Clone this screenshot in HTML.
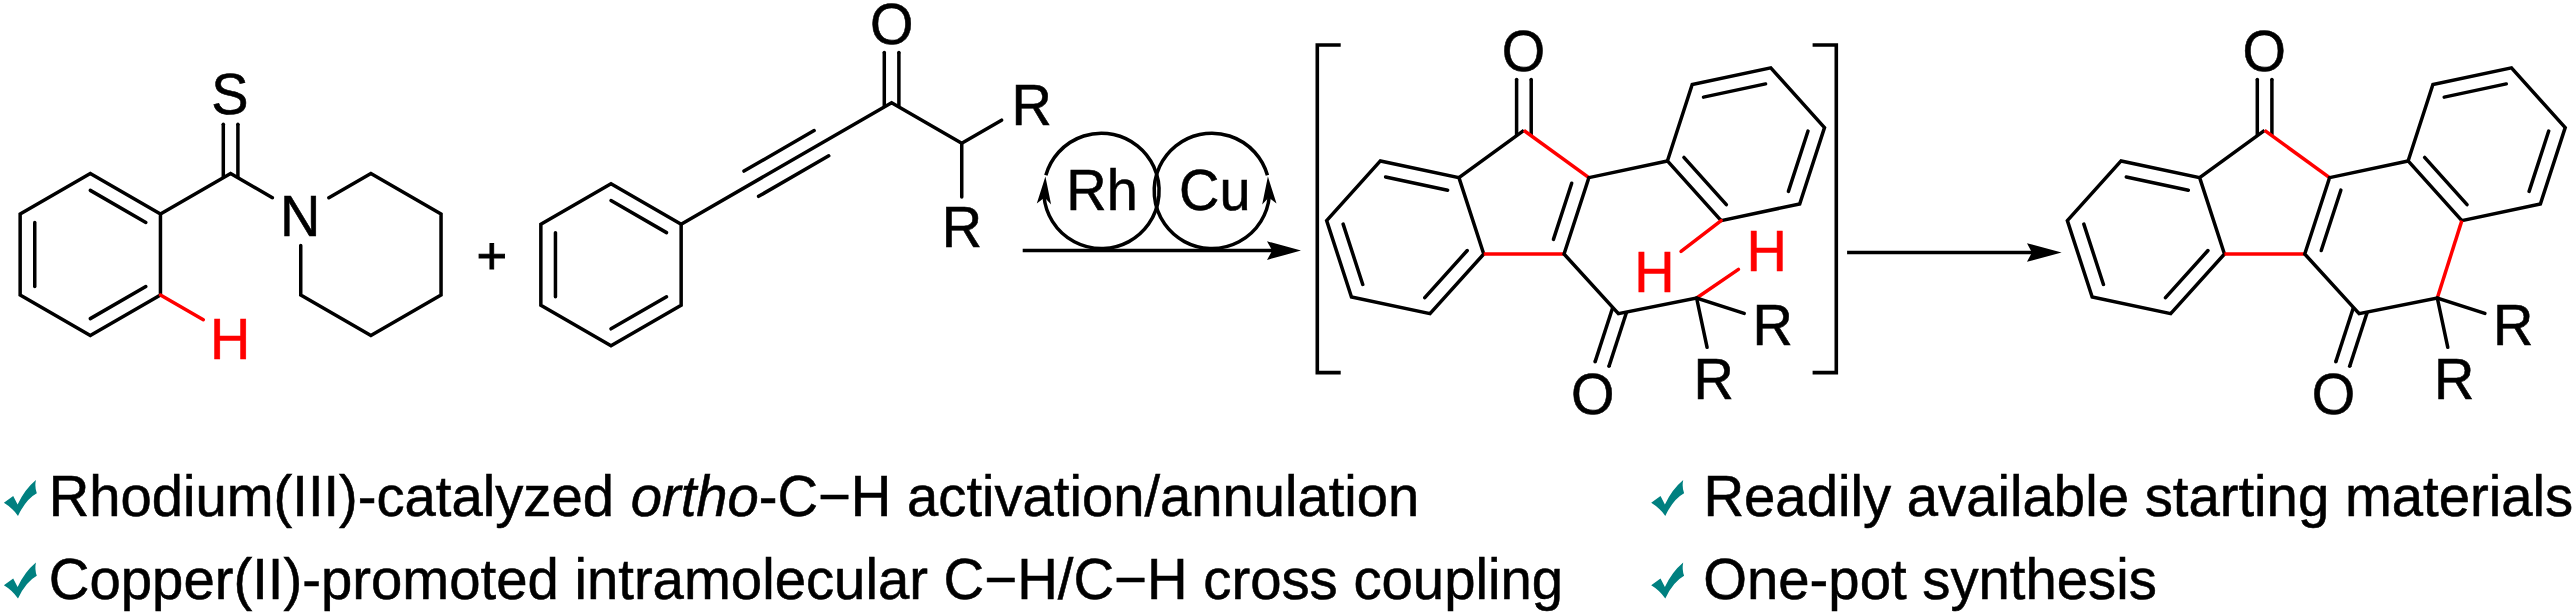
<!DOCTYPE html>
<html><head><meta charset="utf-8"><title>Scheme</title>
<style>
html,body{margin:0;padding:0;background:#fff;}
svg{display:block;font-family:"Liberation Sans",sans-serif;}
</style></head><body>
<svg width="2575" height="615" viewBox="0 0 2575 615">
<rect width="2575" height="615" fill="#fff"/>
<path d="M90.30 173.50 L160.45 214.00 L160.45 295.00 L90.30 335.50 L20.15 295.00 L20.15 214.00 Z" fill="none" stroke="#000" stroke-width="3.50" stroke-linejoin="miter" stroke-linecap="butt" stroke-miterlimit="10"/>
<line x1="90.30" y1="190.36" x2="145.85" y2="222.43" stroke="#000" stroke-width="3.50" stroke-linecap="round"/>
<line x1="145.85" y1="286.57" x2="90.30" y2="318.64" stroke="#000" stroke-width="3.50" stroke-linecap="round"/>
<line x1="34.75" y1="286.57" x2="34.75" y2="222.43" stroke="#000" stroke-width="3.50" stroke-linecap="round"/>
<line x1="237.90" y1="177.71" x2="237.90" y2="124.20" stroke="#000" stroke-width="3.50" stroke-linecap="butt"/>
<circle cx="237.90" cy="124.20" r="1.75" fill="#000"/>
<line x1="223.30" y1="177.71" x2="223.30" y2="124.20" stroke="#000" stroke-width="3.50" stroke-linecap="butt"/>
<circle cx="223.30" cy="124.20" r="1.75" fill="#000"/>
<path d="M160.45 214.00 L230.60 173.50 L272.43 197.65" fill="none" stroke="#000" stroke-width="3.50" stroke-linejoin="miter" stroke-linecap="butt" stroke-miterlimit="10"/>
<circle cx="272.43" cy="197.65" r="1.75"/>
<path d="M328.89 197.75 L370.89 173.50 L441.04 214.00 L441.04 295.00 L370.89 335.50 L300.74 295.00 L300.74 245.50" fill="none" stroke="#000" stroke-width="3.50" stroke-linejoin="miter" stroke-linecap="round" stroke-miterlimit="10"/>
<line x1="160.45" y1="295.00" x2="203.32" y2="319.75" stroke="#f00" stroke-width="3.50" stroke-linecap="round"/>
<text transform="translate(230.00 114.40) scale(1 1.035)" font-size="55.90" fill="#000" stroke="#000" stroke-width="0.55" text-anchor="middle">S</text>
<text transform="translate(300.30 235.60) scale(1 1.035)" font-size="55.90" fill="#000" stroke="#000" stroke-width="0.55" text-anchor="middle">N</text>
<text transform="translate(230.20 359.00) scale(1 1.035)" font-size="55.90" fill="#f00" stroke="#f00" stroke-width="0.55" text-anchor="middle">H</text>
<text x="491.8" y="274.2" font-size="52.5" text-anchor="middle" stroke="#000" stroke-width="0.9">+</text>
<path d="M611.00 183.70 L681.15 224.20 L681.15 305.20 L611.00 345.70 L540.85 305.20 L540.85 224.20 Z" fill="none" stroke="#000" stroke-width="3.50" stroke-linejoin="miter" stroke-linecap="butt" stroke-miterlimit="10"/>
<line x1="611.00" y1="200.56" x2="666.55" y2="232.63" stroke="#000" stroke-width="3.50" stroke-linecap="round"/>
<line x1="666.55" y1="296.77" x2="611.00" y2="328.84" stroke="#000" stroke-width="3.50" stroke-linecap="round"/>
<line x1="555.45" y1="296.77" x2="555.45" y2="232.63" stroke="#000" stroke-width="3.50" stroke-linecap="round"/>
<line x1="898.89" y1="106.91" x2="898.89" y2="52.40" stroke="#000" stroke-width="3.50" stroke-linecap="butt"/>
<circle cx="898.89" cy="52.40" r="1.75" fill="#000"/>
<line x1="884.29" y1="106.91" x2="884.29" y2="52.40" stroke="#000" stroke-width="3.50" stroke-linecap="butt"/>
<circle cx="884.29" cy="52.40" r="1.75" fill="#000"/>
<path d="M681.15 224.20 L891.59 102.70 L961.74 143.20 L1001.58 120.20" fill="none" stroke="#000" stroke-width="3.50" stroke-linejoin="miter" stroke-linecap="round" stroke-miterlimit="10"/>
<line x1="961.74" y1="143.20" x2="961.74" y2="197.10" stroke="#000" stroke-width="3.50" stroke-linecap="round"/>
<line x1="758.60" y1="196.34" x2="828.74" y2="155.84" stroke="#000" stroke-width="3.50" stroke-linecap="round"/>
<line x1="744.00" y1="171.06" x2="814.14" y2="130.56" stroke="#000" stroke-width="3.50" stroke-linecap="round"/>
<text transform="translate(891.70 43.70) scale(1 1.035)" font-size="55.90" fill="#000" stroke="#000" stroke-width="0.55" text-anchor="middle">O</text>
<text transform="translate(1031.80 125.00) scale(1 1.035)" font-size="55.90" fill="#000" stroke="#000" stroke-width="0.55" text-anchor="middle">R</text>
<text transform="translate(962.00 247.20) scale(1 1.035)" font-size="55.90" fill="#000" stroke="#000" stroke-width="0.55" text-anchor="middle">R</text>
<line x1="1022.70" y1="250.60" x2="1273.20" y2="250.60" stroke="#000" stroke-width="3.50" stroke-linecap="butt"/>
<path d="M1301.00 250.60 L1267.00 241.30 L1272.20 250.60 L1267.00 259.90 Z" fill="#000"/>
<path d="M1045.85 175.29 A57.70 57.70 0 1 1 1043.97 196.43" fill="none" stroke="#000" stroke-width="3.50"/>
<path d="M1045.40 176.60 L1036.80 203.40 L1044.60 197.60 L1051.10 204.50 Z" fill="#000"/>
<path d="M1267.45 175.29 A57.70 57.70 0 1 0 1269.33 196.43" fill="none" stroke="#000" stroke-width="3.50"/>
<path d="M1267.90 176.60 L1276.50 203.40 L1268.70 197.60 L1262.20 204.50 Z" fill="#000"/>
<text transform="translate(1102.00 210.20) scale(1 1.020)" font-size="55.90" fill="#000" stroke="#000" stroke-width="0.55" text-anchor="middle">Rh</text>
<text transform="translate(1214.85 210.30) scale(1 1.030)" font-size="55.90" fill="#000" stroke="#000" stroke-width="0.55" text-anchor="middle">Cu</text>
<line x1="1531.20" y1="135.75" x2="1531.20" y2="79.44" stroke="#000" stroke-width="3.50" stroke-linecap="butt"/>
<circle cx="1531.20" cy="79.44" r="1.75" fill="#000"/>
<line x1="1516.60" y1="135.75" x2="1516.60" y2="79.44" stroke="#000" stroke-width="3.50" stroke-linecap="butt"/>
<circle cx="1516.60" cy="79.44" r="1.75" fill="#000"/>
<path d="M1523.90 130.44 L1458.94 177.64 L1380.39 160.95 L1326.66 220.62 L1351.47 296.99 L1430.02 313.69 L1483.75 254.01 L1458.94 177.64" fill="none" stroke="#000" stroke-width="3.50" stroke-linejoin="miter" stroke-linecap="butt" stroke-miterlimit="10"/>
<line x1="1447.66" y1="190.17" x2="1385.60" y2="176.98" stroke="#000" stroke-width="3.50" stroke-linecap="round"/>
<line x1="1343.15" y1="224.13" x2="1362.75" y2="284.46" stroke="#000" stroke-width="3.50" stroke-linecap="round"/>
<line x1="1424.81" y1="297.65" x2="1467.26" y2="250.51" stroke="#000" stroke-width="3.50" stroke-linecap="round"/>
<path d="M1667.41 160.95 L1692.22 84.58 L1770.77 67.88 L1824.50 127.56 L1799.69 203.93 L1721.14 220.62 Z" fill="none" stroke="#000" stroke-width="3.50" stroke-linejoin="miter" stroke-linecap="butt" stroke-miterlimit="10"/>
<line x1="1703.50" y1="97.11" x2="1765.56" y2="83.91" stroke="#000" stroke-width="3.50" stroke-linecap="round"/>
<line x1="1808.01" y1="131.06" x2="1788.41" y2="191.40" stroke="#000" stroke-width="3.50" stroke-linecap="round"/>
<line x1="1726.35" y1="204.59" x2="1683.90" y2="157.44" stroke="#000" stroke-width="3.50" stroke-linecap="round"/>
<line x1="1612.74" y1="307.49" x2="1595.08" y2="361.85" stroke="#000" stroke-width="3.50" stroke-linecap="butt"/>
<circle cx="1595.08" cy="361.85" r="1.75" fill="#000"/>
<line x1="1626.61" y1="312.05" x2="1608.96" y2="366.36" stroke="#000" stroke-width="3.50" stroke-linecap="butt"/>
<circle cx="1608.96" cy="366.36" r="1.75" fill="#000"/>
<line x1="1523.90" y1="130.44" x2="1588.86" y2="177.64" stroke="#f00" stroke-width="3.50" stroke-linecap="butt"/>
<line x1="1483.75" y1="254.01" x2="1564.05" y2="254.01" stroke="#f00" stroke-width="3.50" stroke-linecap="butt"/>
<line x1="1696.60" y1="298.00" x2="1738.45" y2="269.38" stroke="#f00" stroke-width="3.50" stroke-linecap="round"/>
<line x1="1721.14" y1="220.62" x2="1681.06" y2="251.34" stroke="#f00" stroke-width="3.50" stroke-linecap="round"/>
<path d="M1667.41 160.95 L1588.86 177.64 L1564.05 254.01 L1618.40 313.70 L1696.60 298.00 L1744.15 313.45" fill="none" stroke="#000" stroke-width="3.50" stroke-linejoin="miter" stroke-linecap="round" stroke-miterlimit="10"/>
<line x1="1696.60" y1="298.00" x2="1707.08" y2="347.30" stroke="#000" stroke-width="3.50" stroke-linecap="round"/>
<line x1="1571.70" y1="183.22" x2="1553.44" y2="239.41" stroke="#000" stroke-width="3.50" stroke-linecap="round"/>
<text transform="translate(1523.60 71.30) scale(1 1.035)" font-size="55.90" fill="#000" stroke="#000" stroke-width="0.55" text-anchor="middle">O</text>
<text transform="translate(1592.80 413.70) scale(1 1.035)" font-size="55.90" fill="#000" stroke="#000" stroke-width="0.55" text-anchor="middle">O</text>
<text transform="translate(1772.60 345.20) scale(1 1.035)" font-size="55.90" fill="#000" stroke="#000" stroke-width="0.55" text-anchor="middle">R</text>
<text transform="translate(1713.60 399.10) scale(1 1.035)" font-size="55.90" fill="#000" stroke="#000" stroke-width="0.55" text-anchor="middle">R</text>
<text transform="translate(1766.80 270.60) scale(1 1.035)" font-size="55.90" fill="#f00" stroke="#f00" stroke-width="0.55" text-anchor="middle">H</text>
<text transform="translate(1654.50 292.30) scale(1 1.035)" font-size="55.90" fill="#f00" stroke="#f00" stroke-width="0.55" text-anchor="middle">H</text>
<line x1="2271.90" y1="135.75" x2="2271.90" y2="79.44" stroke="#000" stroke-width="3.50" stroke-linecap="butt"/>
<circle cx="2271.90" cy="79.44" r="1.75" fill="#000"/>
<line x1="2257.30" y1="135.75" x2="2257.30" y2="79.44" stroke="#000" stroke-width="3.50" stroke-linecap="butt"/>
<circle cx="2257.30" cy="79.44" r="1.75" fill="#000"/>
<path d="M2264.60 130.44 L2199.64 177.64 L2121.09 160.95 L2067.36 220.62 L2092.17 296.99 L2170.72 313.69 L2224.45 254.01 L2199.64 177.64" fill="none" stroke="#000" stroke-width="3.50" stroke-linejoin="miter" stroke-linecap="butt" stroke-miterlimit="10"/>
<line x1="2188.36" y1="190.17" x2="2126.30" y2="176.98" stroke="#000" stroke-width="3.50" stroke-linecap="round"/>
<line x1="2083.85" y1="224.13" x2="2103.45" y2="284.46" stroke="#000" stroke-width="3.50" stroke-linecap="round"/>
<line x1="2165.51" y1="297.65" x2="2207.96" y2="250.51" stroke="#000" stroke-width="3.50" stroke-linecap="round"/>
<path d="M2408.11 160.95 L2432.92 84.58 L2511.47 67.88 L2565.20 127.56 L2540.39 203.93 L2461.84 220.62 Z" fill="none" stroke="#000" stroke-width="3.50" stroke-linejoin="miter" stroke-linecap="butt" stroke-miterlimit="10"/>
<line x1="2444.20" y1="97.11" x2="2506.26" y2="83.91" stroke="#000" stroke-width="3.50" stroke-linecap="round"/>
<line x1="2548.71" y1="131.06" x2="2529.11" y2="191.40" stroke="#000" stroke-width="3.50" stroke-linecap="round"/>
<line x1="2467.05" y1="204.59" x2="2424.60" y2="157.44" stroke="#000" stroke-width="3.50" stroke-linecap="round"/>
<line x1="2353.44" y1="307.49" x2="2335.78" y2="361.85" stroke="#000" stroke-width="3.50" stroke-linecap="butt"/>
<circle cx="2335.78" cy="361.85" r="1.75" fill="#000"/>
<line x1="2367.31" y1="312.05" x2="2349.66" y2="366.36" stroke="#000" stroke-width="3.50" stroke-linecap="butt"/>
<circle cx="2349.66" cy="366.36" r="1.75" fill="#000"/>
<line x1="2264.60" y1="130.44" x2="2329.56" y2="177.64" stroke="#f00" stroke-width="3.50" stroke-linecap="butt"/>
<line x1="2224.45" y1="254.01" x2="2304.75" y2="254.01" stroke="#f00" stroke-width="3.50" stroke-linecap="butt"/>
<line x1="2461.84" y1="220.62" x2="2437.30" y2="298.00" stroke="#f00" stroke-width="3.50" stroke-linecap="butt"/>
<path d="M2408.11 160.95 L2329.56 177.64 L2304.75 254.01 L2359.10 313.70 L2437.30 298.00 L2484.85 313.45" fill="none" stroke="#000" stroke-width="3.50" stroke-linejoin="miter" stroke-linecap="round" stroke-miterlimit="10"/>
<line x1="2437.30" y1="298.00" x2="2447.78" y2="347.30" stroke="#000" stroke-width="3.50" stroke-linecap="round"/>
<line x1="2340.84" y1="190.17" x2="2321.24" y2="250.51" stroke="#000" stroke-width="3.50" stroke-linecap="round"/>
<text transform="translate(2264.30 71.30) scale(1 1.035)" font-size="55.90" fill="#000" stroke="#000" stroke-width="0.55" text-anchor="middle">O</text>
<text transform="translate(2333.50 413.70) scale(1 1.035)" font-size="55.90" fill="#000" stroke="#000" stroke-width="0.55" text-anchor="middle">O</text>
<text transform="translate(2513.30 345.20) scale(1 1.035)" font-size="55.90" fill="#000" stroke="#000" stroke-width="0.55" text-anchor="middle">R</text>
<text transform="translate(2454.30 399.10) scale(1 1.035)" font-size="55.90" fill="#000" stroke="#000" stroke-width="0.55" text-anchor="middle">R</text>
<path d="M1340.70 45.00 L1317.30 45.00 L1317.30 372.60 L1340.70 372.60" fill="none" stroke="#000" stroke-width="3.60" stroke-linejoin="miter" stroke-linecap="butt" stroke-miterlimit="10"/>
<path d="M1812.60 45.00 L1836.30 45.00 L1836.30 372.60 L1812.60 372.60" fill="none" stroke="#000" stroke-width="3.60" stroke-linejoin="miter" stroke-linecap="butt" stroke-miterlimit="10"/>
<line x1="1847.10" y1="252.50" x2="2032.90" y2="252.50" stroke="#000" stroke-width="3.50" stroke-linecap="butt"/>
<path d="M2061.60 252.50 L2027.00 243.15 L2031.90 252.50 L2027.00 261.85 Z" fill="#000"/>
<path transform="translate(0.00 480.00)" d="M3.9 22.7 L13.2 16.1 L17.6 24.6 Q24.5 9.5 35.9 0 Q34.5 7 36.8 13.2 Q26 19 18 35.9 Q12 27.5 3.9 22.7 Z" fill="#008080"/>
<path transform="translate(0.00 562.50)" d="M3.9 22.7 L13.2 16.1 L17.6 24.6 Q24.5 9.5 35.9 0 Q34.5 7 36.8 13.2 Q26 19 18 35.9 Q12 27.5 3.9 22.7 Z" fill="#008080"/>
<path transform="translate(1647.30 480.00)" d="M3.9 22.7 L13.2 16.1 L17.6 24.6 Q24.5 9.5 35.9 0 Q34.5 7 36.8 13.2 Q26 19 18 35.9 Q12 27.5 3.9 22.7 Z" fill="#008080"/>
<path transform="translate(1647.30 562.50)" d="M3.9 22.7 L13.2 16.1 L17.6 24.6 Q24.5 9.5 35.9 0 Q34.5 7 36.8 13.2 Q26 19 18 35.9 Q12 27.5 3.9 22.7 Z" fill="#008080"/>
<text transform="translate(48.70 516.00) scale(1 1.015)" font-size="56.20" fill="#000" stroke="#000" stroke-width="0.55" text-anchor="start">Rhodium(III)-catalyzed <tspan font-style="italic" dx="1.2">ortho</tspan>-C−H activation/annulation</text>
<text transform="translate(48.80 599.00) scale(1 1.015)" font-size="56.30" fill="#000" stroke="#000" stroke-width="0.55" text-anchor="start">Copper(II)-promoted intramolecular C−H/C−H cross coupling</text>
<text transform="translate(1703.40 516.00) scale(1 1.015)" font-size="56.30" fill="#000" stroke="#000" stroke-width="0.55" text-anchor="start">Readily available starting materials</text>
<text transform="translate(1703.20 599.00) scale(1 1.015)" font-size="56.30" fill="#000" stroke="#000" stroke-width="0.55" text-anchor="start">One-pot synthesis</text>
</svg>
</body></html>
